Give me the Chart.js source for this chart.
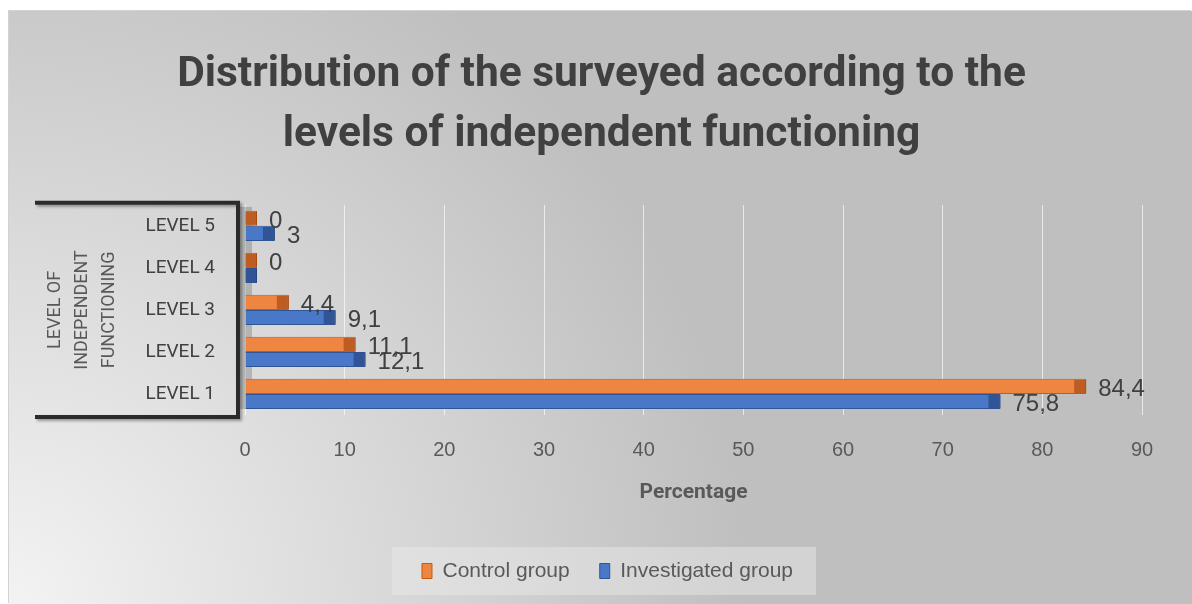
<!DOCTYPE html>
<html lang="en">
<head>
    <meta charset="UTF-8">
    <title>grafico niveis</title>
    <script src="https://cdn.jsdelivr.net/npm/chart.js"></script>
    <style>
      body { margin: 0; background: #fff; }
      #moldura {
        position: absolute; left: 9px; top: 11px;
        width: 1183px; height: 593px;
        box-shadow: -1px -1px 0 #d2d2d2;
        background: radial-gradient(circle 780px at 0% 100%, #f3f3f3 0%, #d8d8d8 50%, #bfbfbf 95%);
      }
    </style>
</head>
<body>
  <div id="moldura">
    <canvas id="canvas_niveis" width="1183" height="593"></canvas>
  </div>
</body>
</html>
<script>

    // dados
    var niveis = ['LEVEL 5', 'LEVEL 4', 'LEVEL 3', 'LEVEL 2', 'LEVEL 1'];
    var controle = [0, 0, 4.4, 11.1, 84.4];
    var investigado = [3, 0, 9.1, 12.1, 75.8];
    var eixoMin = 0;
    var eixoMax = 90;
    var passo = 10;
    // rotulo que nao aparece no original (investigated, level 4)
    var rotuloOculto = [[1, 1]];

    var fonteTitulo = "Roboto, 'Liberation Sans', sans-serif";
    var fonte = "'Liberation Sans', Arial, sans-serif";

    var enfeites = {
      id: 'enfeites',
      beforeLayout(chart) {
        // legenda mais baixa do que o chart.js calcula
        var lg = chart.legend;
        if (lg && !lg._fitOriginal) {
          lg._fitOriginal = lg.fit;
          lg.fit = function () { this._fitOriginal(); this.height = 60; };
        }
      },
      afterLayout(chart) {
        // legenda e titulo um pouco deslocados para a direita
        chart.legend.left += 32;
        chart.legend.right += 32;
        chart.titleBlock.left += 26;
        chart.titleBlock.right += 26;
      },
      beforeDraw(chart) {
        var ctx = chart.ctx;
        var caixas = chart.legend.legendHitBoxes;
        if (!caixas || !caixas.length) return;
        var ult = caixas[caixas.length - 1];
        var esq = caixas[0].left - 30;
        var dir = ult.left + ult.width + 23;
        var meio = caixas[0].top + caixas[0].height / 2;
        ctx.save();
        ctx.fillStyle = 'rgba(235,235,235,0.45)';
        ctx.fillRect(esq, meio - 24, dir - esq, 48);
        ctx.restore();
      },
      beforeDatasetsDraw(chart) {
        var ctx = chart.ctx, a = chart.chartArea;
        ctx.save();
        // lado da parede 3d
        ctx.fillStyle = 'rgba(110,110,110,0.35)';
        ctx.fillRect(a.left - 5, a.top + 2, 12, a.bottom - a.top - 8);
        // moldura preta
        ctx.strokeStyle = '#2b2b2b';
        ctx.lineWidth = 4;
        ctx.shadowColor = 'rgba(0,0,0,0.35)';
        ctx.shadowBlur = 3;
        ctx.shadowOffsetX = 2;
        ctx.shadowOffsetY = 2;
        ctx.beginPath();
        ctx.moveTo(26, a.top - 2);
        ctx.lineTo(a.left - 7, a.top - 2);
        ctx.lineTo(a.left - 7, a.bottom + 2);
        ctx.lineTo(26, a.bottom + 2);
        ctx.stroke();
        ctx.restore();
      },
      afterDatasetsDraw(chart) {
        var ctx = chart.ctx;
        var pontas = ['rgba(150,60,10,0.55)', 'rgba(30,55,110,0.55)'];
        ctx.save();
        chart.data.datasets.forEach(function (ds, d) {
          var meta = chart.getDatasetMeta(d);
          meta.data.forEach(function (el, i) {
            var h = el.height;
            // ponta mais escura (efeito 3d)
            var larg = Math.min(12, el.x - el.base);
            ctx.fillStyle = pontas[d];
            ctx.fillRect(el.x - larg, el.y - h / 2 + 1, larg, h - 2);

            var oculto = rotuloOculto.some(function (r) { return r[0] == d && r[1] == i; });
            if (oculto) return;
            ctx.fillStyle = '#404040';
            ctx.font = '24px ' + fonte;
            ctx.textAlign = 'left';
            ctx.textBaseline = 'middle';
            ctx.fillText(String(ds.data[i]).replace('.', ','), el.x + 12, el.y + 3);
          });
        });
        ctx.restore();
      }
    };

    var grafico = new Chart(document.getElementById('canvas_niveis'), {
      type: 'bar',
      data: {
        labels: niveis,
        datasets: [{
          label: 'Control group',
          data: controle,
          backgroundColor: '#EE8541',
          borderColor: '#C55A11',
          borderWidth: 1,
          minBarLength: 12
        }, {
          label: 'Investigated group',
          data: investigado,
          backgroundColor: '#4A78C8',
          borderColor: '#2F5597',
          borderWidth: 1,
          minBarLength: 12
        }]
      },
      options: {
        indexAxis: 'y',
        responsive: false,
        animation: false,
        devicePixelRatio: 1,
        categoryPercentage: 0.72,
        barPercentage: 1,
        layout: { padding: { top: 0, right: 50, bottom: 13.5, left: 0 } },
        plugins: {
          title: {
            display: true,
            text: ['Distribution of the surveyed according to the', 'levels of independent functioning'],
            color: '#404040',
            font: { family: fonteTitulo, size: 42.5, weight: 'bold', lineHeight: 1.41 },
            padding: { top: 34, bottom: 40 }
          },
          legend: {
            position: 'bottom',
            labels: {
              color: '#595959',
              font: { family: fonte, size: 21 },
              boxWidth: 10,
              boxHeight: 15,
              padding: 30
            }
          },
          tooltip: { enabled: false }
        },
        scales: {
          x: {
            min: eixoMin,
            max: eixoMax,
            border: { display: false },
            grid: { color: 'rgba(255,255,255,0.65)', lineWidth: 1, drawTicks: false },
            ticks: {
              stepSize: passo,
              padding: 23,
              color: '#595959',
              font: { family: fonte, size: 20 }
            },
            title: {
              display: true,
              text: 'Percentage',
              color: '#595959',
              font: { family: fonteTitulo, size: 21, weight: 'bold' },
              padding: { top: 0, bottom: 25 }
            },
            afterFit: function (s) { s.height = 115.5; }
          },
          y: {
            border: { display: false },
            grid: { display: false, drawTicks: false },
            ticks: {
              padding: 30,
              color: '#404040',
              font: { family: fonteTitulo, size: 19 }
            },
            title: {
              display: true,
              text: ['LEVEL OF', 'INDEPENDENT', 'FUNCTIONING'],
              color: '#595959',
              font: { family: fonteTitulo, size: 18, lineHeight: 1.5 },
              padding: { top: 33, bottom: 0 }
            },
            afterFit: function (s) { s.width = 236; }
          }
        }
      },
      plugins: [enfeites]
    });

</script>
